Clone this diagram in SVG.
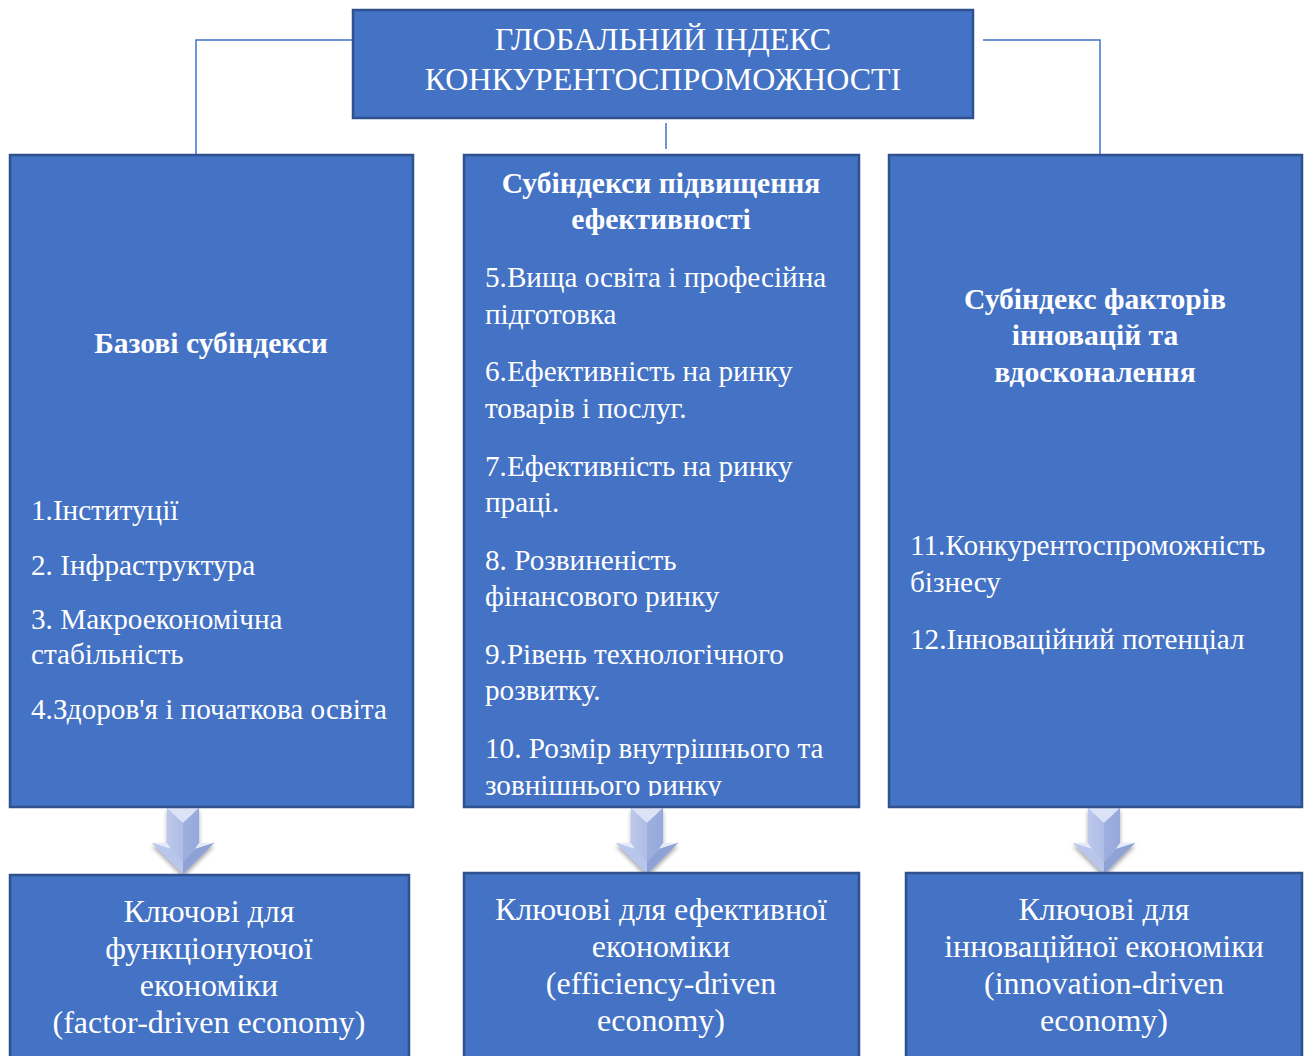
<svg xmlns="http://www.w3.org/2000/svg" width="1307" height="1056" viewBox="0 0 1307 1056">
<style>
.box{fill:#4472C4;stroke:#2F528F;stroke-width:2.5}
.t{font-family:"Liberation Serif","Times New Roman",serif;fill:#fff;font-size:29.2px}
.b{font-weight:bold;font-size:29.6px}
.c{text-anchor:middle}
.big{font-size:32px}
.ln{fill:none;stroke:#4472C4;stroke-width:1.5}
</style>
<defs>
<linearGradient id="ag" x1="0" y1="0" x2="1" y2="0">
<stop offset="0" stop-color="#C9D3F0"/>
<stop offset="0.5" stop-color="#AEBDE6"/>
<stop offset="1" stop-color="#94A8DC"/>
</linearGradient>
<filter id="sh" x="-30%" y="-20%" width="160%" height="150%">
<feGaussianBlur in="SourceAlpha" stdDeviation="2"/>
<feOffset dx="0" dy="3"/>
<feComponentTransfer><feFuncA type="linear" slope="0.35"/></feComponentTransfer>
<feMerge><feMergeNode/><feMergeNode in="SourceGraphic"/></feMerge>
</filter>
<g id="arrow">
<g filter="url(#sh)">
<polygon points="-16,0 16,0 16,35 31,35 0,66 -31,35 -16,35" fill="url(#ag)"/>
<polygon points="-16,0 16,0 0,15" fill="#DCE3F6"/>
<polygon points="0,15 16,0 16,35 0,54" fill="#8FA3D8" opacity="0.55"/>
<polygon points="-31,35 -16,35 -12,41" fill="#E4EAF8"/>
<polygon points="31,35 16,35 12,41" fill="#E4EAF8"/>
<polygon points="-31,35 -12,41 0,54 0,66" fill="#B9C6EB"/>
<polygon points="31,35 12,41 0,54 0,66" fill="#8EA2D6"/>
</g>
</g>
<clipPath id="cm"><rect x="465" y="156" width="393" height="640"/></clipPath>
</defs>

<g id="connectors">
<polyline class="ln" points="352,40 196,40 196,155"/>
<polyline class="ln" points="983,40 1100,40 1100,155"/>
<line class="ln" x1="666" y1="123" x2="666" y2="149"/>
<use href="#arrow" x="183" y="808"/>
<use href="#arrow" x="647" y="808"/>
<use href="#arrow" x="1104" y="808"/>
</g>

<g id="title">
<rect class="box" x="353" y="10" width="620" height="108"/>
<text class="t c big" x="663" y="50">ГЛОБАЛЬНИЙ ІНДЕКС</text>
<text class="t c big" x="663" y="90">КОНКУРЕНТОСПРОМОЖНОСТІ</text>
</g>

<g id="basic">
<rect class="box" x="10" y="155" width="403" height="652"/>
<text class="t b c" x="211" y="353">Базові субіндекси</text>
<text class="t" x="31" y="520">1.Інституції</text>
<text class="t" x="31" y="575">2. Інфраструктура</text>
<text class="t" x="31" y="629">3. Макроекономічна</text>
<text class="t" x="31" y="664">стабільність</text>
<text class="t" x="31" y="719">4.Здоров'я і початкова освіта</text>
</g>

<g id="efficiency">
<rect class="box" x="464" y="155" width="395" height="652"/>
<g clip-path="url(#cm)">
<text class="t b c" x="661" y="193">Субіндекси підвищення</text>
<text class="t b c" x="661" y="229">ефективності</text>
<text class="t" x="485" y="287">5.Вища освіта і професійна</text>
<text class="t" x="485" y="324">підготовка</text>
<text class="t" x="485" y="381">6.Ефективність на ринку</text>
<text class="t" x="485" y="418">товарів і послуг.</text>
<text class="t" x="485" y="476">7.Ефективність на ринку</text>
<text class="t" x="485" y="512">праці.</text>
<text class="t" x="485" y="570">8. Розвиненість</text>
<text class="t" x="485" y="606">фінансового ринку</text>
<text class="t" x="485" y="664">9.Рівень технологічного</text>
<text class="t" x="485" y="700">розвитку.</text>
<text class="t" x="485" y="758">10. Розмір внутрішнього та</text>
<text class="t" x="485" y="795">зовнішнього ринку</text>
</g>
</g>

<g id="innovation">
<rect class="box" x="889" y="155" width="413" height="652"/>
<text class="t b c" x="1095" y="309">Субіндекс факторів</text>
<text class="t b c" x="1095" y="345">інновацій та</text>
<text class="t b c" x="1095" y="382">вдосконалення</text>
<text class="t" x="910" y="555">11.Конкурентоспроможність</text>
<text class="t" x="910" y="592">бізнесу</text>
<text class="t" x="910" y="649">12.Інноваційний потенціал</text>
</g>

<g id="factor">
<rect class="box" x="10" y="875" width="399" height="190"/>
<text class="t c big" x="209" y="922">Ключові для</text>
<text class="t c big" x="209" y="959">функціонуючої</text>
<text class="t c big" x="209" y="996">економіки</text>
<text class="t c big" x="209" y="1033">(factor-driven economy)</text>
</g>

<g id="efficiency-driven">
<rect class="box" x="464" y="873" width="395" height="190"/>
<text class="t c big" x="661" y="920">Ключові для ефективної</text>
<text class="t c big" x="661" y="957">економіки</text>
<text class="t c big" x="661" y="994">(efficiency-driven</text>
<text class="t c big" x="661" y="1031">economy)</text>
</g>

<g id="innovation-driven">
<rect class="box" x="906" y="873" width="396" height="190"/>
<text class="t c big" x="1104" y="920">Ключові для</text>
<text class="t c big" x="1104" y="957">інноваційної економіки</text>
<text class="t c big" x="1104" y="994">(innovation-driven</text>
<text class="t c big" x="1104" y="1031">economy)</text>
</g>
</svg>
